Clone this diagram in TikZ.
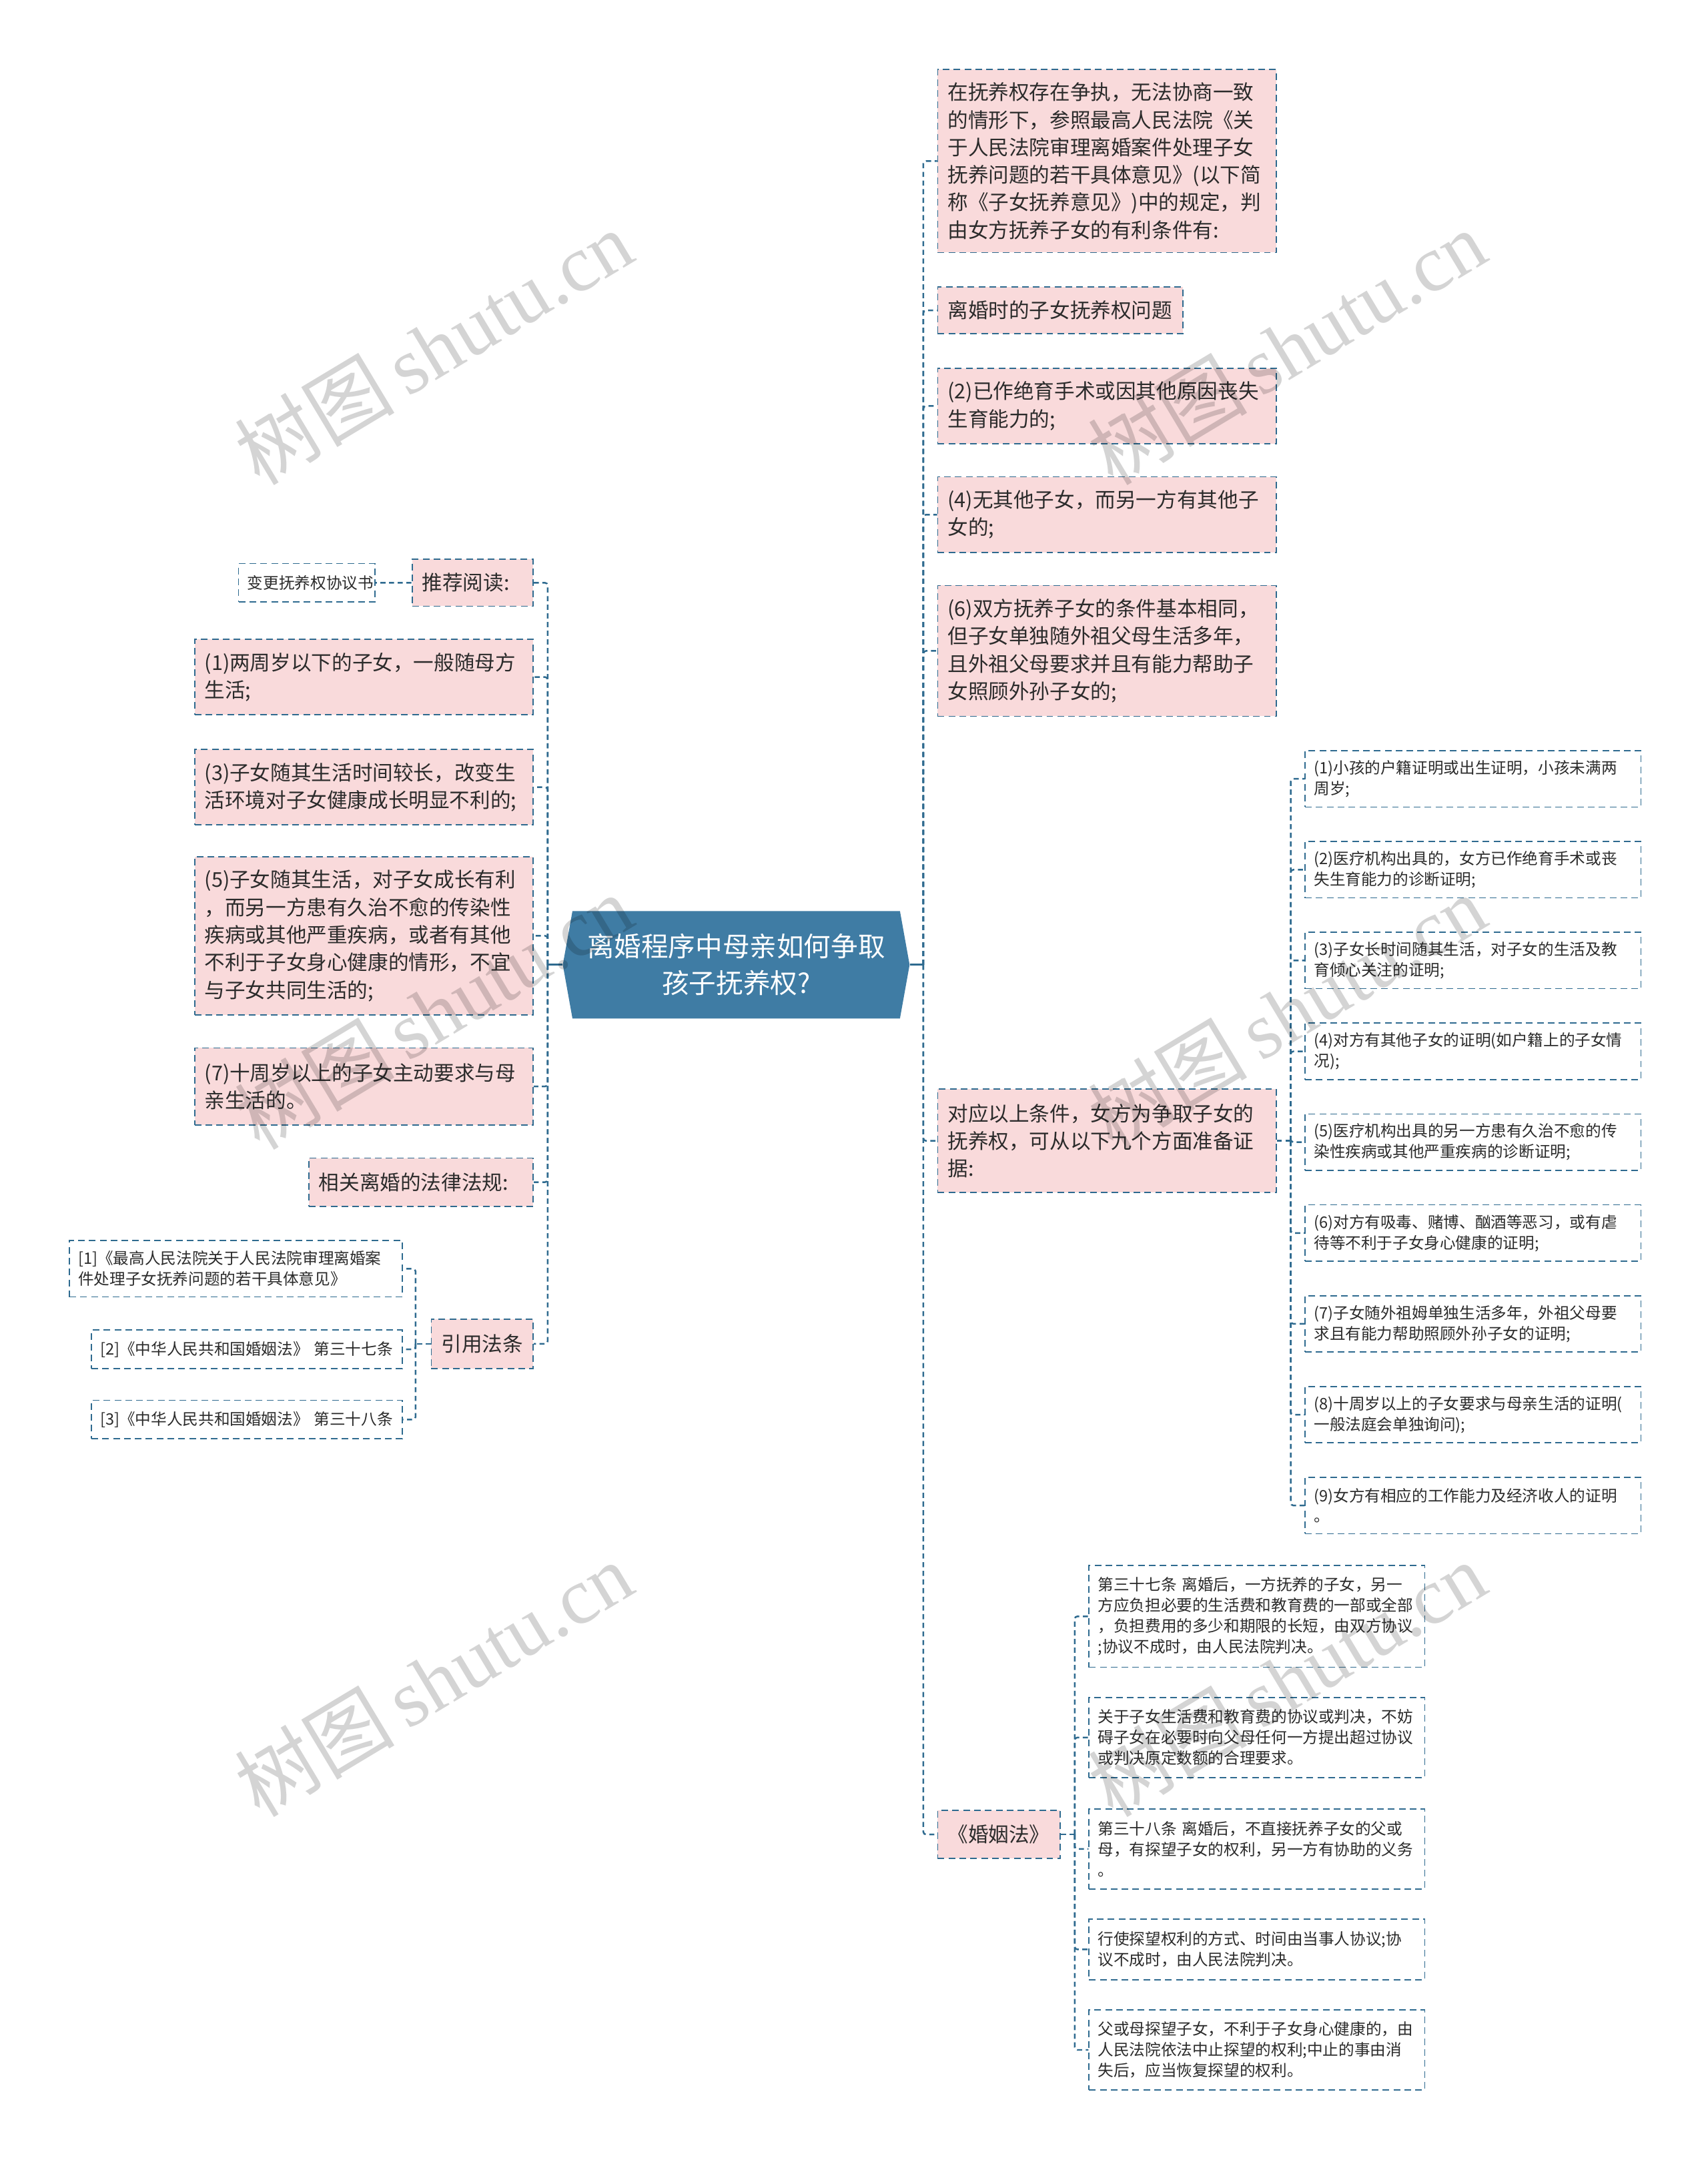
\documentclass[tikz,border=0pt]{standalone}
\usepackage{fontspec}
\setmainfont{Noto Sans CJK SC}
\newfontfamily\wmserif{Liberation Serif}
\definecolor{lc}{HTML}{2E6A8F}
\definecolor{pkfill}{HTML}{F9DADB}
\definecolor{cfill}{HTML}{3F7CA4}
\definecolor{txt}{HTML}{2B2B2B}
\newcommand{\bigf}{\fontsize{9.2pt}{12.4pt}\selectfont}
\newcommand{\smf}{\fontsize{7.1pt}{9.3pt}\selectfont}
\newcommand{\ctrf}{\fontsize{12.2pt}{16.5pt}\selectfont}
\tikzset{
  pk/.style={draw=lc, fill=pkfill, line width=0.55pt, dash pattern=on 3pt off 1.9pt, inner xsep=4.5pt, inner ysep=0pt, align=left, anchor=north west, font=\bigf, text=txt},
  wh/.style={draw=lc, fill=white, line width=0.5pt, dash pattern=on 3pt off 1.9pt, inner xsep=4pt, inner ysep=0pt, align=left, anchor=north west, font=\smf, text=txt},
  con/.style={draw=lc, line width=0.75pt, dash pattern=on 2.3pt off 1.6pt, rounded corners=1.2pt},
  stub/.style={draw=lc, line width=0.9pt},
  wm/.style={rotate=31, text=black, opacity=0.17, font=\fontsize{36pt}{40pt}\selectfont, inner sep=0pt},
}
\begin{document}
\begin{tikzpicture}[x=0.62pt, y=-0.62pt]
\useasboundingbox (0,0) rectangle (1241,1568);
\fill[white] (0,0) rectangle (1241,1568);

% central node
\fill[cfill] (409,701) -- (416,662) -- (654,662) -- (661,701) -- (654,740) -- (416,740) -- cycle;
\node[minimum width=156.2pt, minimum height=48.4pt, inner sep=0pt, align=center, text=white, font=\ctrf] (ctr) at (535,701) {离婚程序中母亲如何争取\\孩子抚养权?};

% trunk coordinates
\coordinate (rt) at (671,0);
\coordinate (lt) at (398,0);
\coordinate (st) at (938,0);
\coordinate (mt) at (781,0);
\coordinate (ct) at (302,0);

% right level 1
\node[pk, text width=143.5pt, minimum height=82.5pt] (r1) at (681,50) {在抚养权存在争执，无法协商一致\\的情形下，参照最高人民法院《关\\于人民法院审理离婚案件处理子女\\抚养问题的若干具体意见》(以下简\\称《子女抚养意见》)中的规定，判\\由女方抚养子女的有利条件有:};
\node[pk, text width=101.4pt, minimum height=21.1pt] (r2) at (681,208) {离婚时的子女抚养权问题};
\node[pk, text width=143.5pt, minimum height=34.1pt] (r3) at (681,267) {(2)已作绝育手术或因其他原因丧失\\生育能力的;};
\node[pk, text width=143.5pt, minimum height=34.1pt] (r4) at (681,346) {(4)无其他子女，而另一方有其他子\\女的;};
\node[pk, text width=143.5pt, minimum height=58.9pt] (r5) at (681,425) {(6)双方抚养子女的条件基本相同，\\但子女单独随外祖父母生活多年，\\且外祖父母要求并且有能力帮助子\\女照顾外孙子女的;};
\node[pk, text width=143.5pt, minimum height=46.5pt] (r6) at (681,791) {对应以上条件，女方为争取子女的\\抚养权，可从以下九个方面准备证\\据:};
\node[pk, text width=46.2pt, minimum height=21.7pt] (r7) at (681,1315) {《婚姻法》};

% right level 2 (evidence)
\node[wh, text width=143.3pt, minimum height=25.4pt] (s1) at (948,545) {(1)小孩的户籍证明或出生证明，小孩未满两\\周岁;};
\node[wh, text width=143.3pt, minimum height=25.4pt] (s2) at (948,611) {(2)医疗机构出具的，女方已作绝育手术或丧\\失生育能力的诊断证明;};
\node[wh, text width=143.3pt, minimum height=25.4pt] (s3) at (948,677) {(3)子女长时间随其生活，对子女的生活及教\\育倾心关注的证明;};
\node[wh, text width=143.3pt, minimum height=25.4pt] (s4) at (948,743) {(4)对方有其他子女的证明(如户籍上的子女情\\况);};
\node[wh, text width=143.3pt, minimum height=25.4pt] (s5) at (948,809) {(5)医疗机构出具的另一方患有久治不愈的传\\染性疾病或其他严重疾病的诊断证明;};
\node[wh, text width=143.3pt, minimum height=25.4pt] (s6) at (948,875) {(6)对方有吸毒、赌博、酗酒等恶习，或有虐\\待等不利于子女身心健康的证明;};
\node[wh, text width=143.3pt, minimum height=25.4pt] (s7) at (948,941) {(7)子女随外祖姆单独生活多年，外祖父母要\\求且有能力帮助照顾外孙子女的证明;};
\node[wh, text width=143.3pt, minimum height=25.4pt] (s8) at (948,1007) {(8)十周岁以上的子女要求与母亲生活的证明(\\一般法庭会单独询问);};
\node[wh, text width=143.3pt, minimum height=25.4pt] (s9) at (948,1073) {(9)女方有相应的工作能力及经济收人的证明\\。};

% right level 2 (marriage law)
\node[wh, text width=143.3pt, minimum height=45.9pt] (m1) at (791,1137) {第三十七条 离婚后，一方抚养的子女，另一\\方应负担必要的生活费和教育费的一部或全部\\，负担费用的多少和期限的长短，由双方协议\\;协议不成时，由人民法院判决。};
\node[wh, text width=143.3pt, minimum height=36.0pt] (m2) at (791,1233) {关于子女生活费和教育费的协议或判决，不妨\\碍子女在必要时向父母任何一方提出超过协议\\或判决原定数额的合理要求。};
\node[wh, text width=143.3pt, minimum height=36.0pt] (m3) at (791,1314) {第三十八条 离婚后，不直接抚养子女的父或\\母，有探望子女的权利，另一方有协助的义务\\。};
\node[wh, text width=143.3pt, minimum height=27.3pt] (m4) at (791,1394) {行使探望权利的方式、时间由当事人协议;协\\议不成时，由人民法院判决。};
\node[wh, text width=143.3pt, minimum height=36.0pt] (m5) at (791,1460) {父或母探望子女，不利于子女身心健康的，由\\人民法院依法中止探望的权利;中止的事由消\\失后，应当恢复探望的权利。};

% left level 1
\node[pk, text width=45.6pt, minimum height=21.1pt] (l0) at (299,406) {推荐阅读:};
\node[wh, text width=53.4pt, minimum height=17.4pt] (l0c) at (173,409) {变更抚养权协议书};
\node[pk, text width=143.5pt, minimum height=34.1pt] (l1) at (141,464) {(1)两周岁以下的子女，一般随母方\\生活;};
\node[pk, text width=143.5pt, minimum height=34.1pt] (l2) at (141,544) {(3)子女随其生活时间较长，改变生\\活环境对子女健康成长明显不利的;};
\node[pk, text width=143.5pt, minimum height=71.3pt] (l3) at (141,622) {(5)子女随其生活，对子女成长有利\\，而另一方患有久治不愈的传染性\\疾病或其他严重疾病，或者有其他\\不利于子女身心健康的情形，不宜\\与子女共同生活的;};
\node[pk, text width=143.5pt, minimum height=34.7pt] (l4) at (141,761) {(7)十周岁以上的子女主动要求与母\\亲生活的。};
\node[pk, text width=92.1pt, minimum height=21.7pt] (l5) at (224,841) {相关离婚的法律法规:};
\node[pk, text width=36.9pt, minimum height=22.3pt] (l6) at (313,958) {引用法条};
\node[wh, text width=142.0pt, minimum height=25.4pt] (c1) at (50,901) {[1]《最高人民法院关于人民法院审理离婚案\\件处理子女抚养问题的若干具体意见》};
\node[wh, text width=132.1pt, minimum height=17.4pt] (c2) at (66,966) {[2]《中华人民共和国婚姻法》 第三十七条};
\node[wh, text width=132.1pt, minimum height=17.4pt] (c3) at (66,1017) {[3]《中华人民共和国婚姻法》 第三十八条};

% connectors right
\draw[stub] (ctr.east) -- (ctr.east -| rt);
\foreach \n in {r1,r2,r3,r4,r5,r6,r7} \draw[con] (ctr.east -| rt) |- (\n.west);
\draw[con] (r6.east) -- (r6.east -| st);
\foreach \n in {s1,s2,s3,s4,s5,s6,s7,s8,s9} \draw[con] (r6.east -| st) |- (\n.west);
\draw[con] (r7.east) -- (r7.east -| mt);
\foreach \n in {m1,m2,m3,m4,m5} \draw[con] (r7.east -| mt) |- (\n.west);

% connectors left
\draw[stub] (ctr.west) -- (ctr.west -| lt);
\foreach \n in {l0,l1,l2,l3,l4,l5,l6} \draw[con] (ctr.west -| lt) |- (\n.east);
\draw[con] (l0.west) -- (l0c.east);
\draw[con] (l6.west) -- (l6.west -| ct);
\foreach \n in {c1,c2,c3} \draw[con] (l6.west -| ct) |- (\n.east);

% watermarks
\node[wm] (wm1) at (315,252) {树图\,{\wmserif shutu.cn}};
\node[wm] (wm2) at (935,252) {树图\,{\wmserif shutu.cn}};
\node[wm] (wm3) at (315,735) {树图\,{\wmserif shutu.cn}};
\node[wm] (wm4) at (935,735) {树图\,{\wmserif shutu.cn}};
\node[wm] (wm5) at (315,1220) {树图\,{\wmserif shutu.cn}};
\node[wm] (wm6) at (935,1220) {树图\,{\wmserif shutu.cn}};
\end{tikzpicture}
\end{document}
